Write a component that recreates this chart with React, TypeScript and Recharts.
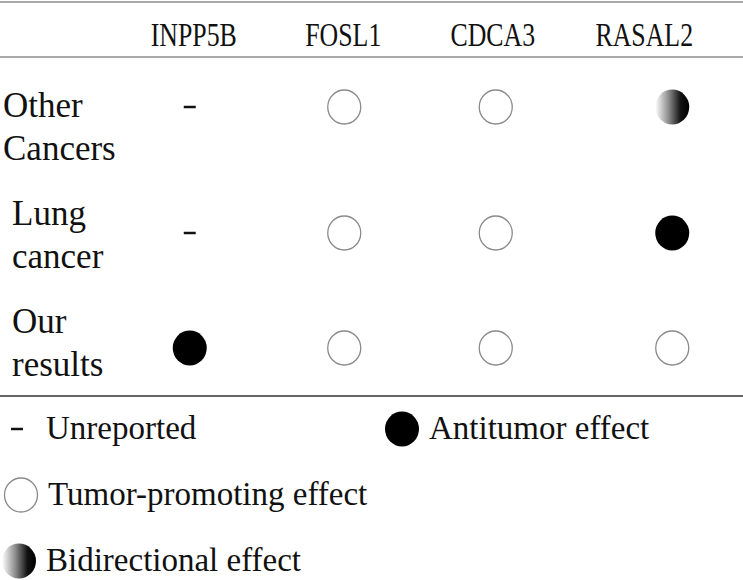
import { Customized, Legend, Scatter, ScatterChart, XAxis, YAxis } from "recharts";

const GENES = ["INPP5B", "FOSL1", "CDCA3", "RASAL2"];
const ROWS = ["Other Cancers", "Lung cancer", "Our results"];

// one status per gene, same order as GENES
const OTHER_CANCERS = ["unreported", "promoting", "promoting", "bidirectional"];
const LUNG_CANCER = ["unreported", "promoting", "promoting", "antitumor"];
const OUR_RESULTS = ["antitumor", "promoting", "promoting", "promoting"];

const LEGEND_LABELS = ["Unreported", "Antitumor effect", "Tumor-promoting effect", "Bidirectional effect"];
const LEGEND_STATUS = ["unreported", "antitumor", "promoting", "bidirectional"];

const FONT = "'Liberation Serif', 'Times New Roman', serif";

// small layout tweaks so labels and marks sit where the original put them
const HEADER_NUDGE = [9, -1, -11, -19];
const COL_NUDGE = [5, 0, -8, 9];
const ROW_NUDGE = [-1, 5, 0];
const ROW_DY = [9, -3, -15];
const ROW_INDENT = [3, 12, 12];
const LEGEND_POS = [
  { left: 1, top: 408 },
  { left: 383, top: 408 },
  { left: 2, top: 474 },
  { left: 0, top: 540 },
];

const statusTable = [OTHER_CANCERS, LUNG_CANCER, OUR_RESULTS];
const data = ROWS.flatMap((row, r) =>
  statusTable[r].map((status, g) => ({ gene: GENES[g], row, status }))
);

function Marker({ cx, cy, status, gradId }: { cx: number; cy: number; status: string; gradId: string }) {
  if (status === "unreported") {
    return <line x1={cx - 6} x2={cx + 6} y1={cy} y2={cy} stroke="#111" strokeWidth={2.5} />;
  }
  if (status === "antitumor") {
    return <ellipse cx={cx} cy={cy} rx={17} ry={17.5} fill="#000" />;
  }
  if (status === "bidirectional") {
    return <ellipse cx={cx} cy={cy} rx={17} ry={17.5} fill={`url(#${gradId})`} />;
  }
  return <ellipse cx={cx} cy={cy} rx={16.5} ry={17} fill="#fff" stroke="#8a8a8a" strokeWidth={1.3} />;
}

function Gradient({ id }: { id: string }) {
  return (
    <linearGradient id={id} x1="0" y1="0" x2="1" y2="0">
      <stop offset="0%" stopColor="#ffffff" />
      <stop offset="40%" stopColor="#8a8a8a" />
      <stop offset="75%" stopColor="#111111" />
      <stop offset="100%" stopColor="#000000" />
    </linearGradient>
  );
}

const HeaderTick = (props: any) => {
  const { x, payload } = props;
  const i = GENES.indexOf(payload.value);
  return (
    <text
      transform={`translate(${x + HEADER_NUDGE[i]}, 46) scale(0.76, 1)`}
      textAnchor="middle"
      fontFamily={FONT}
      fontSize={34}
      fill="#111"
    >
      {payload.value}
    </text>
  );
};

const RowTick = (props: any) => {
  const { y, payload } = props;
  const i = ROWS.indexOf(payload.value);
  const [first, second] = payload.value.split(" ");
  const x = ROW_INDENT[i];
  return (
    <text x={x} y={y + ROW_DY[i]} textAnchor="start" fontFamily={FONT} fontSize={35} fill="#111">
      <tspan x={x}>{first}</tspan>
      <tspan x={x} dy={43}>
        {second}
      </tspan>
    </text>
  );
};

const Rules = () => (
  <g>
    <defs>
      <Gradient id="bidi" />
    </defs>
    <line x1={0} x2={743} y1={2} y2={2} stroke="#8c8c8c" strokeWidth={1.5} />
    <line x1={0} x2={743} y1={57} y2={57} stroke="#8c8c8c" strokeWidth={1.5} />
    <line x1={0} x2={743} y1={396} y2={396} stroke="#333" strokeWidth={1.5} />
  </g>
);

const LegendContent = () => (
  <div style={{ position: "relative", width: 743, height: 180, fontFamily: FONT, fontSize: 33, color: "#111" }}>
    {LEGEND_LABELS.map((label, i) => (
      <div
        key={label}
        style={{ position: "absolute", left: LEGEND_POS[i].left, top: LEGEND_POS[i].top - 400, display: "flex", alignItems: "center", whiteSpace: "nowrap" }}
      >
        <svg width={40} height={40} style={{ marginRight: LEGEND_STATUS[i] === "unreported" ? 5 : 6 }}>
          <defs>
            <Gradient id={`bidi-legend-${i}`} />
          </defs>
          <Marker cx={LEGEND_STATUS[i] === "unreported" ? 16 : 19} cy={21} status={LEGEND_STATUS[i]} gradId={`bidi-legend-${i}`} />
        </svg>
        <span style={{ lineHeight: "40px" }}>{label}</span>
      </div>
    ))}
  </div>
);

const CellShape = (p: any) => {
  const c = GENES.indexOf(p.payload.gene);
  const r = ROWS.indexOf(p.payload.row);
  return <Marker cx={p.cx + COL_NUDGE[c]} cy={p.cy + ROW_NUDGE[r]} status={p.payload.status} gradId="bidi" />;
};

export default function App() {
  return (
    <div style={{ position: "absolute", left: 0, top: 0, width: 743, height: 580, background: "#fff", fontFamily: FONT }}>
      <ScatterChart width={743} height={580} margin={{ top: 0, right: 0, bottom: 172, left: 0 }}>
        <Customized component={Rules} />
        <XAxis
          xAxisId="g"
          type="category"
          dataKey="gene"
          orientation="top"
          height={48}
          allowDuplicatedCategory={false}
          axisLine={false}
          tickLine={false}
          tick={HeaderTick}
        />
        <YAxis
          yAxisId="r"
          type="category"
          dataKey="row"
          width={105}
          reversed
          allowDuplicatedCategory={false}
          axisLine={false}
          tickLine={false}
          tick={RowTick}
        />
        <Legend
          layout="vertical"
          align="center"
          verticalAlign="middle"
          content={LegendContent}
          wrapperStyle={{ top: 400, left: 0, width: 743, height: 180 }}
        />
        <Scatter xAxisId="g" yAxisId="r" data={data} isAnimationActive={false} shape={CellShape} />
      </ScatterChart>
    </div>
  );
}
